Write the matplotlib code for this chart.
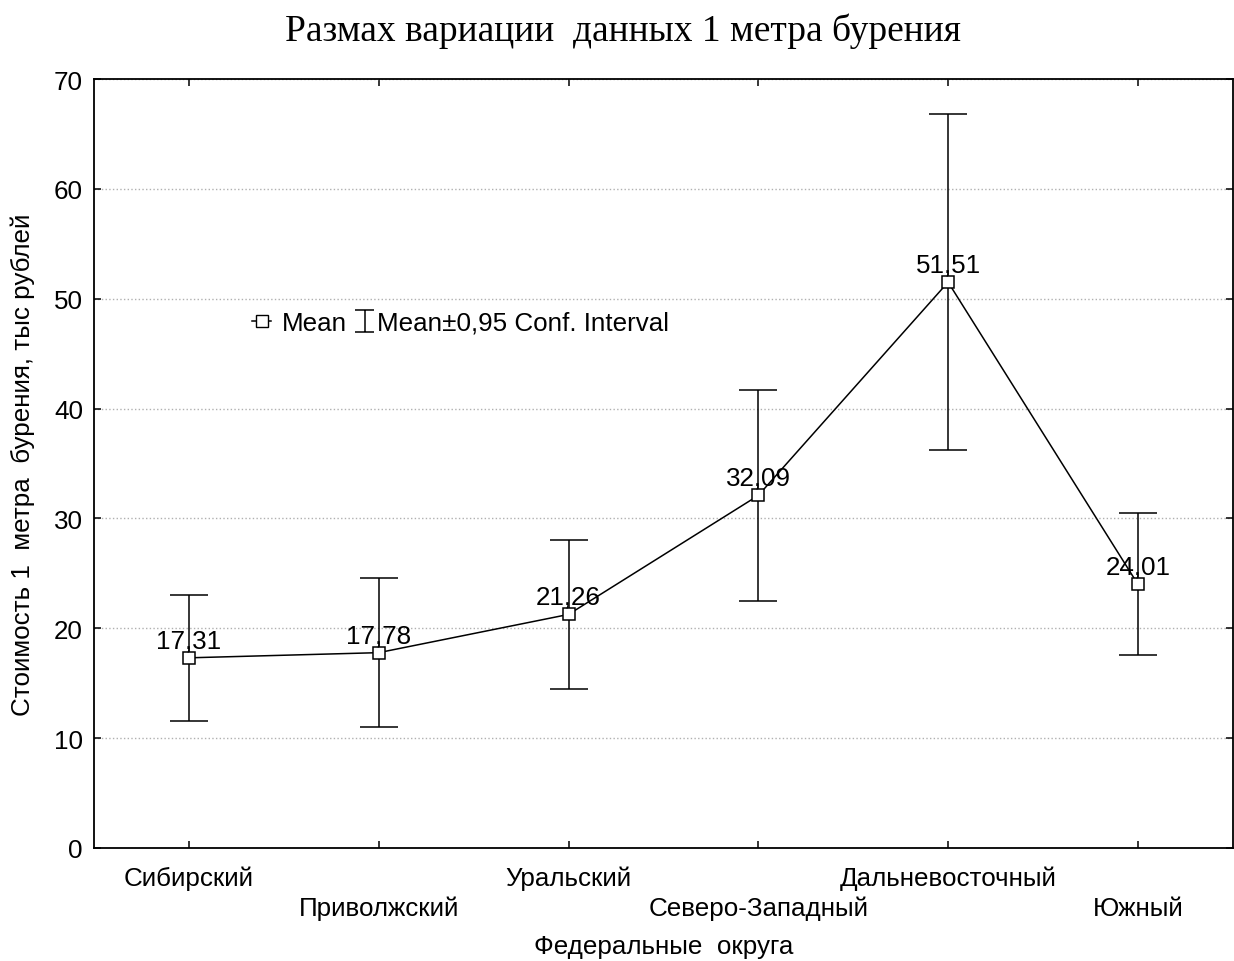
import matplotlib
matplotlib.use('Agg')
import matplotlib.pyplot as plt
from matplotlib.lines import Line2D
from matplotlib.path import Path

# данные по федеральным округам
okruga = ['Сибирский', 'Приволжский', 'Уральский', 'Северо-Западный',
          'Дальневосточный', 'Южный']
srednee = [17.31, 17.78, 21.26, 32.09, 51.51, 24.01]
nizhn = [11.6, 11.0, 14.5, 22.5, 36.2, 17.6]
verkhn = [23.0, 24.6, 28.0, 41.7, 66.8, 30.5]
podpisi = ['17,31', '17,78', '21,26', '32,09', '51,51', '24,01']

plt.rcParams['font.family'] = ['Liberation Sans', 'DejaVu Sans']
fs = 18.7

fig = plt.figure(figsize=(12.34, 9.62), dpi=100)
ax = fig.add_axes([0.0762, 0.1175, 0.9228, 0.7993])

x = list(range(len(okruga)))
err_lo = [m - l for m, l in zip(srednee, nizhn)]
err_hi = [u - m for m, u in zip(srednee, verkhn)]

ax.errorbar(x, srednee, yerr=[err_lo, err_hi], fmt='none', ecolor='black',
            elinewidth=1.1, capsize=13.7, capthick=1.1, zorder=2)
ax.plot(x, srednee, color='black', lw=1.1, marker='s', markersize=9.3,
        markerfacecolor='white', markeredgecolor='black',
        markeredgewidth=1.1, zorder=3)

for i in range(len(x)):
    ax.annotate(podpisi[i], (x[i], srednee[i]), xytext=(0, 4),
                textcoords='offset points', ha='center', va='bottom',
                fontsize=fs, zorder=4)

ax.set_xlim(-0.5, 5.5)
ax.set_ylim(0, 70)
ax.set_yticks(range(0, 71, 10))
ax.set_xticks(x)
ax.set_xticklabels(okruga)
ax.tick_params(axis='both', direction='in', labelsize=fs, length=5,
               width=1.1, top=True, right=True)
ax.tick_params(axis='x', pad=12.5)
for i, t in enumerate(ax.xaxis.get_major_ticks()):
    if i % 2 == 1:
        t.set_pad(34.5)
ax.tick_params(axis='y', pad=8)
ax.yaxis.grid(True, linestyle=':', color='#b0b0b0', lw=1)
for s in ax.spines.values():
    s.set_linewidth(1.3)

ax.set_xlabel('Федеральные  округа', fontsize=fs, va='center')
ax.xaxis.set_label_coords(0.5, -0.128)
ax.set_ylabel('Стоимость 1  метра  бурения, тыс рублей', fontsize=fs,
              va='center')
ax.yaxis.set_label_coords(-0.0625, 0.5)

fig.suptitle('Размах вариации  данных 1 метра бурения', fontsize=27,
             family='Liberation Serif', x=0.505, y=0.967, va='center')

# легенда: значок "I", сдвинутый вправо внутри места под маркер
znak_I = Path([(-1.5, 11), (16.5, 11), (7.5, 11), (7.5, -11),
               (-1.5, -11), (16.5, -11)],
              [Path.MOVETO, Path.LINETO, Path.MOVETO, Path.LINETO,
               Path.MOVETO, Path.LINETO])
h_mean = Line2D([], [], color='black', lw=1.1, marker='s', markersize=9.3,
                markerfacecolor='white', markeredgecolor='black')
h_ci = Line2D([], [], linestyle='none', marker=znak_I, markersize=23.8,
              markerfacecolor='none', markeredgecolor='black',
              markeredgewidth=1.1)
ax.legend([h_mean, h_ci], ['Mean', 'Mean±0,95 Conf. Interval'],
          loc='center left', bbox_to_anchor=(0.130, 0.683), ncol=2,
          frameon=False, fontsize=fs, handlelength=0.73, handletextpad=0.385,
          columnspacing=0.04, borderaxespad=0)

fig.savefig('out.png', dpi=100)
